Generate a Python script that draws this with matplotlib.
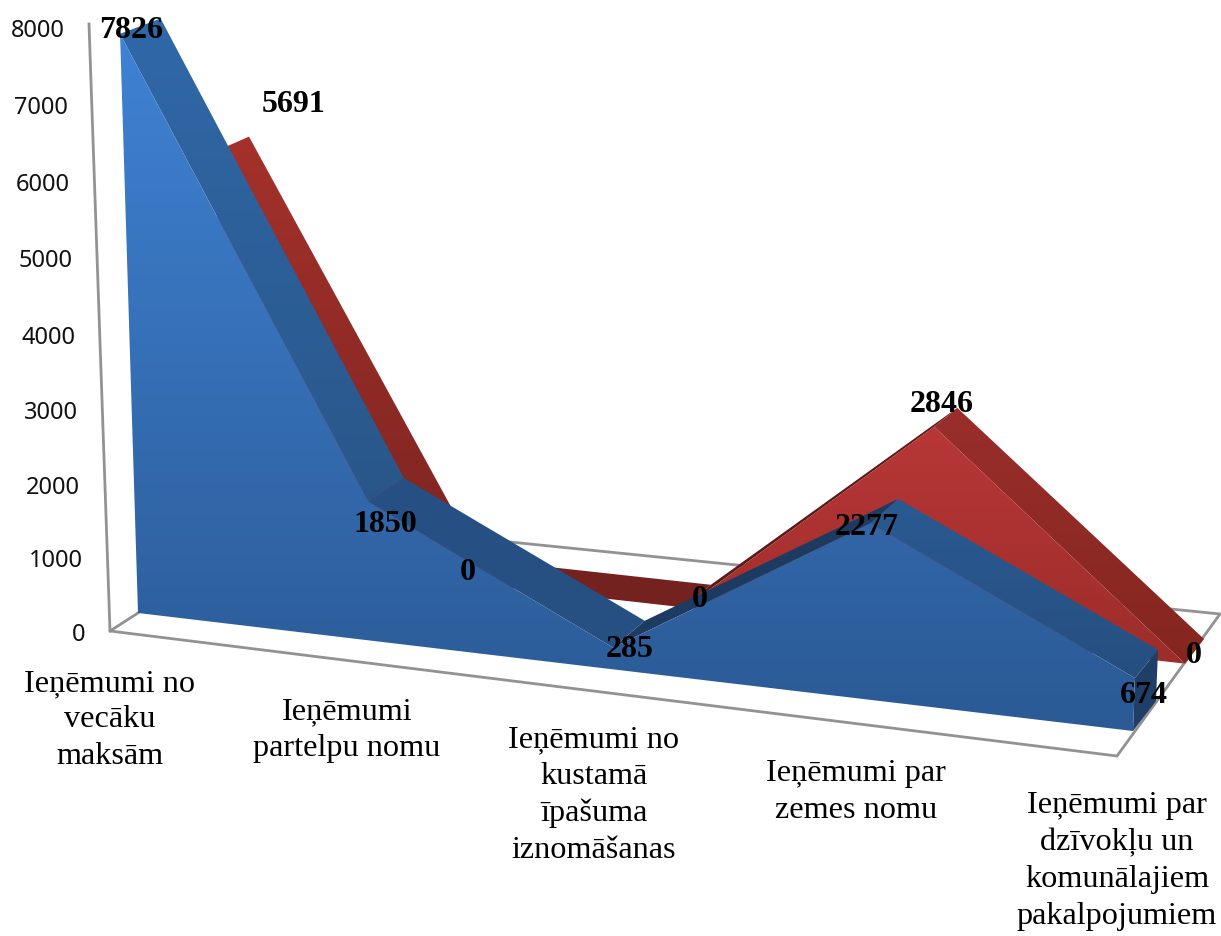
import matplotlib
matplotlib.use("Agg")
import matplotlib.pyplot as plt
import numpy as np
from matplotlib.colors import LinearSegmentedColormap
from matplotlib.patches import Polygon

categories = [
    "Ieņēmumi no\nvecāku\nmaksām",
    "Ieņēmumi\npartelpu nomu",
    "Ieņēmumi no\nkustamā\nīpašuma\niznomāšanas",
    "Ieņēmumi par\nzemes nomu",
    "Ieņēmumi par\ndzīvokļu un\nkomunālajiem\npakalpojumiem",
]
blue_values = [7826, 1850, 285, 2277, 674]
red_values = [5691, 0, 0, 2846, 0]
axis_ticks = [0, 1000, 2000, 3000, 4000, 5000, 6000, 7000, 8000]

W, H = 1221, 937

# layout of the fake 3d box, all in image pixels
FLOOR_CORNERS = [(138, 614), (1133, 732), (258, 536), (1204, 640)]
VANISH = (587, 15100)
SCALE_FRONT = (0.0740, 0.0785)
SCALE_BACK = (0.0700, 0.0720)
BLUE_DEPTH = (0.0, 0.31)
RED_DEPTH = (0.72, 1.0)

tick_y = [635, 561, 488, 413, 338, 261, 185, 108, 31]
cat_label_pos = [(110, 720), (347, 730), (594, 795), (856, 792), (1117, 861)]
blue_label_pos = [(131, 30), (385, 525), (630, 650), (867, 528), (1144, 696)]
red_label_pos = [(294, 104), (468, 573), (700, 600), (942, 405), (1194, 656)]


def floor_matrix():
    src = [(0, 0), (4, 0), (0, 1), (4, 1)]
    rows, rhs = [], []
    for (u, v), (x, y) in zip(src, FLOOR_CORNERS):
        rows.append([u, v, 1, 0, 0, 0, -u * x, -v * x])
        rows.append([0, 0, 0, u, v, 1, -u * y, -v * y])
        rhs += [x, y]
    return np.append(np.linalg.solve(np.array(rows, float), rhs), 1).reshape(3, 3)


MAT = floor_matrix()


def project(c, value, depth):
    x, y, w = MAT @ [c, depth, 1]
    x, y = x / w, y / w
    front = SCALE_FRONT[0] + (SCALE_FRONT[1] - SCALE_FRONT[0]) * c / 4
    back = SCALE_BACK[0] + (SCALE_BACK[1] - SCALE_BACK[0]) * c / 4
    h = value * (front + (back - front) * depth)
    return x + h * (x - VANISH[0]) / (VANISH[1] - y), y - h


def gradient_poly(ax, verts, top, bottom, y0, y1, z):
    cmap = LinearSegmentedColormap.from_list("g", [top, bottom])
    patch = Polygon(verts, closed=True, fc="none", ec="none", zorder=z)
    ax.add_patch(patch)
    # one row per pixel, clamped outside y0..y1 so nothing gets cropped
    grad = np.clip((np.arange(H) + 0.5 - y0) / (y1 - y0), 0, 1).reshape(-1, 1)
    im = ax.imshow(grad, cmap=cmap, vmin=0, vmax=1, extent=(0, W, H, 0), aspect="auto", zorder=z)
    im.set_clip_path(patch)


def draw_series(ax, values, depth, face, bands, z):
    near, far = depth
    n = len(values)
    # top bands first, the front face sits over them
    for i in range(n - 1):
        verts = [
            project(i, values[i], near),
            project(i + 1, values[i + 1], near),
            project(i + 1, values[i + 1], far),
            project(i, values[i], far),
        ]
        top, bottom, y0, y1 = bands[i]
        gradient_poly(ax, verts, top, bottom, y0, y1, z + 0.1 * i)
    outline = [project(i, values[i], near) for i in range(n)]
    outline += [project(n - 1, 0, near), project(0, 0, near)]
    gradient_poly(ax, outline, face[0], face[1], face[2], face[3], z + 1)
    # right hand end cap
    cap = [
        project(n - 1, values[-1], near),
        project(n - 1, values[-1], far),
        project(n - 1, 0, far),
        project(n - 1, 0, near),
    ]
    ax.add_patch(Polygon(cap, closed=True, fc="#1f3f68", ec="none", zorder=z + 0.9))


def main():
    fig = plt.figure(figsize=(W / 100, H / 100), dpi=100)
    ax = fig.add_axes([0, 0, 1, 1])

    # floor and wall
    frame = "#929292"
    ax.plot([89, 110, 1117, 1220, 510], [25, 632, 757, 615, 543], color=frame, lw=2, zorder=1)
    ax.plot([110, 138], [632, 614], color=frame, lw=2, zorder=1)

    for tick, y in zip(axis_ticks, tick_y):
        frac = tick / axis_ticks[-1]
        ax.text(85 - 20 * frac, y, str(tick), ha="right", va="center",
                fontsize=17, family="Noto Sans", color="#111111")

    red_bands = [
        ("#a5312b", "#7e2522", 130, 560),
        ("#732220", "#732220", 560, 610),
        ("#5a1a1a", "#5a1a1a", 400, 610),
        ("#9a2e2b", "#84261f", 410, 660),
    ]
    blue_bands = [
        ("#3068a8", "#295688", 20, 520),
        ("#275084", "#264f82", 480, 650),
        ("#1d3a60", "#1d3a60", 500, 650),
        ("#2a5a92", "#264f80", 500, 680),
    ]
    draw_series(ax, red_values, RED_DEPTH, ("#b83737", "#9c2d2a", 420, 670), red_bands, 2)
    draw_series(ax, blue_values, BLUE_DEPTH, ("#3f82d4", "#2b5a95", 30, 730), blue_bands, 5)

    for pos, value in zip(red_label_pos, red_values):
        ax.text(pos[0], pos[1], str(value), ha="center", va="center", fontsize=23,
                family="Liberation Serif", weight="bold", color="black", zorder=10)
    for pos, value in zip(blue_label_pos, blue_values):
        ax.text(pos[0], pos[1], str(value), ha="center", va="center", fontsize=23,
                family="Liberation Serif", weight="bold", color="black", zorder=10)

    for pos, label in zip(cat_label_pos, categories):
        ax.text(pos[0], pos[1], label, ha="center", va="center", fontsize=23.2,
                family="Liberation Serif", color="black", linespacing=1.345, zorder=10)

    ax.set_xlim(0, W)
    ax.set_ylim(H, 0)
    ax.axis("off")
    fig.savefig("out.png", dpi=100)


if __name__ == "__main__":
    main()
